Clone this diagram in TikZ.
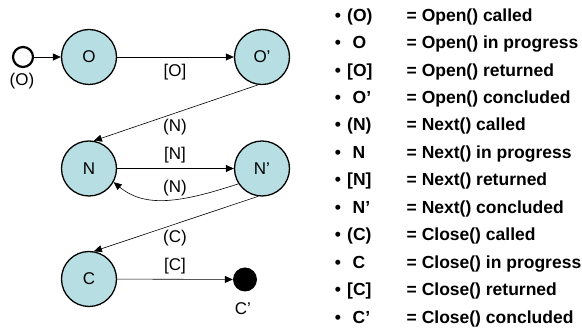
\documentclass[tikz,border=0pt]{standalone}
\usepackage{fontspec}
\setmainfont{Liberation Sans}
\usetikzlibrary{arrows.meta}
\definecolor{statefill}{RGB}{183,222,226}
\begin{document}
\begin{tikzpicture}[x=1pt,y=-1pt,
  state/.style={circle, draw, line width=1.3pt, fill=statefill, minimum size=55pt, inner sep=0pt, font=\fontsize{17}{20}\selectfont},
  startc/.style={circle, draw, line width=2.2pt, minimum size=20pt, inner sep=0pt},
  endc/.style={circle, fill=black, minimum size=24pt, inner sep=0pt},
  lbl/.style={font=\fontsize{17}{20}\selectfont, inner sep=0pt},
  arr/.style={-{Triangle[length=8pt,width=7pt]}, line width=0.6pt},
  leg/.style={font=\bfseries\fontsize{17.5}{20}\selectfont, anchor=base west, inner sep=0pt},
  legb/.style={font=\bfseries\fontsize{17.5}{20}\selectfont, anchor=base, inner sep=0pt}]
\useasboundingbox (0,0) rectangle (582,328);
% states
\node[startc] (s) at (23,57) {};
\node[state] (O) at (89,57) {O};
\node[state] (Op) at (262,57) {O’};
\node[state] (N) at (89,168.5) {N};
\node[state] (Np) at (262,168.5) {N’};
\node[state] (C) at (89,279) {C};
\node[endc] (Cp) at (245,279.5) {};
% connectors
\draw[arr] (s) -- (O);
\draw[arr] (O) -- (Op);
\draw[arr] (Op.-98) -- (N.80);
\draw[arr] (N) -- (Np);
\draw[arr] (Np.-147) .. controls (180,203) and (145,208) .. (N.-29);
\draw[arr] (Np.-98) -- (C.80);
\draw[arr] (C) -- (Cp);
% labels
\node[lbl] (lO) at (22,81) {(O)};
\node[lbl] (l1) at (175,72) {[O]};
\node[lbl] (l2) at (175,127) {(N)};
\node[lbl] (l3) at (175,155) {[N]};
\node[lbl] (l4) at (175,188) {(N)};
\node[lbl] (l5) at (175,238) {(C)};
\node[lbl] (l6) at (175,266) {[C]};
\node[lbl] (l7) at (243,309) {C’};
% legend
\foreach \sym/\dx/\txt [count=\i from 0] in {
  {(O)}/347/{Open() called},
  {O}/352.5/{Open() in progress},
  {[O]}/347/{Open() returned},
  {O’}/352.5/{Open() concluded},
  {(N)}/347/{Next() called},
  {N}/352.5/{Next() in progress},
  {[N]}/347/{Next() returned},
  {N’}/352.5/{Next() concluded},
  {(C)}/347/{Close() called},
  {C}/352.5/{Close() in progress},
  {[C]}/347/{Close() returned},
  {C’}/352.5/{Close() concluded}} {
  \node[legb] (legb\i) at (338,{21.2+27.45*\i}) {•};
  \node[leg] (legs\i) at ({\dx},{21.2+27.45*\i}) {\sym};
  \node[leg] (legt\i) at (406.5,{21.2+27.45*\i}) {= \txt};
}
\end{tikzpicture}
\end{document}
